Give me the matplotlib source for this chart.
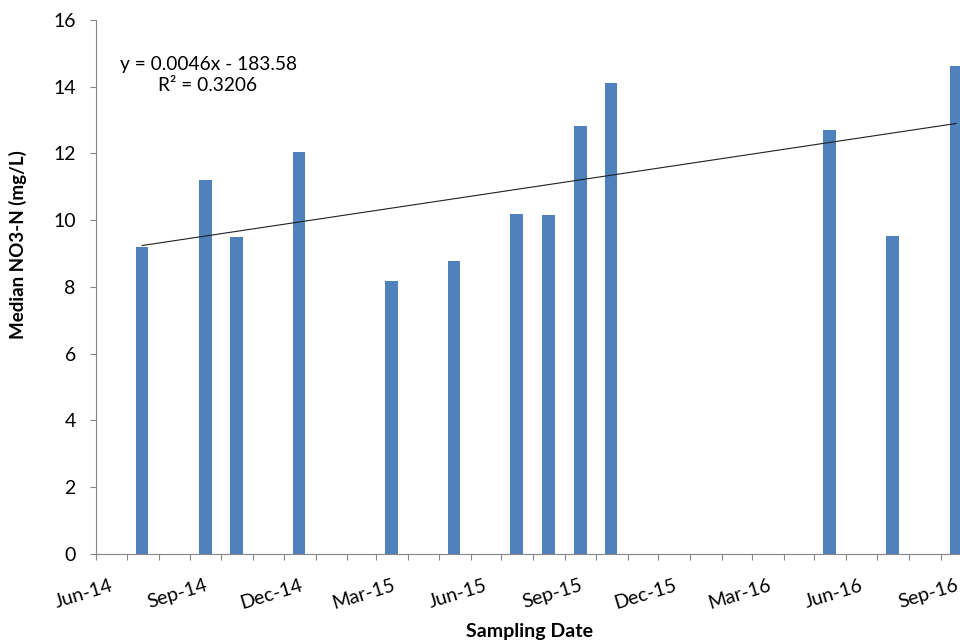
import numpy as np
import matplotlib
matplotlib.use("Agg")
import matplotlib.pyplot as plt
import matplotlib.dates as mdates
import matplotlib.transforms as mtransforms

plt.rcParams["font.family"] = ["Lato", "DejaVu Sans"]

# monthly sampling events (bars sit mid-month on the date axis)
sample_dates = [
    "2014-07-16", "2014-09-16", "2014-10-16", "2014-12-16",
    "2015-03-16", "2015-05-16", "2015-07-16", "2015-08-16",
    "2015-09-16", "2015-10-16", "2016-05-16", "2016-07-16",
    "2016-09-16",
]
median_no3 = [
    9.20, 11.20, 9.50, 12.04,
    8.17, 8.78, 10.19, 10.15,
    12.81, 14.10, 12.69, 9.53,
    14.61,
]

# linear trendline, x = Excel serial date
trend_slope = 0.004609
trend_intercept = -183.58
trend_r2 = 0.3206

dates = np.array(sample_dates, dtype="datetime64[D]")
serial = (dates - np.datetime64("1899-12-30")).astype(float)

fig = plt.figure(figsize=(9.6, 6.44), dpi=100)
ax = fig.add_axes([0.1, 0.1398, 0.9118, 0.8292])

ax.bar(dates, median_no3, width=12.3, color="#4F81BD", zorder=2)

trend_x = serial[[0, -1]]
trend_y = trend_slope * trend_x + trend_intercept
ax.plot(dates[[0, -1]], trend_y, color="#202020", lw=0.8, zorder=3)

ax.set_xlim(np.datetime64("2014-06-01"), np.datetime64("2016-10-01"))
ax.set_ylim(0, 16)
ax.set_yticks(np.arange(0, 17, 2))

ax.xaxis.set_major_locator(mdates.MonthLocator(bymonth=(3, 6, 9, 12)))
ax.xaxis.set_minor_locator(mdates.MonthLocator())
ax.xaxis.set_major_formatter(mdates.DateFormatter("%b-%y"))

axis_grey = "#868686"
for side in ("top", "right"):
    ax.spines[side].set_visible(False)
for side in ("left", "bottom"):
    ax.spines[side].set_color(axis_grey)
    ax.spines[side].set_linewidth(0.8)

ax.tick_params(axis="y", direction="out", length=4.5, width=0.8,
               color=axis_grey, labelsize=14, pad=10)
ax.tick_params(axis="x", which="both", direction="out", length=4.5,
               width=0.8, color=axis_grey)
ax.tick_params(axis="x", which="major", labelsize=14, pad=12)

shift = mtransforms.ScaledTranslation(-12.6 / 100, 0, fig.dpi_scale_trans)
for lbl in ax.get_xticklabels():
    lbl.set_rotation(17)
    lbl.set_ha("center")
    lbl.set_va("top")
    lbl.set_transform(lbl.get_transform() + shift)

fig.text(18 / 960, 1 - 245 / 644, "Median NO3-N (mg/L)", rotation=90,
         ha="center", va="center", fontsize=13.5, fontweight="bold")
fig.text(530 / 960, 1 - 632 / 644, "Sampling Date",
         ha="center", va="center", fontsize=14, fontweight="bold")

fig.text(208 / 960, 1 - 75 / 644,
         f"y = {trend_slope:.4f}x - {abs(trend_intercept):.2f}\nR² = {trend_r2:.4f}",
         ha="center", va="center", fontsize=13.8, linespacing=1.3)

fig.savefig("out.png", dpi=100)
